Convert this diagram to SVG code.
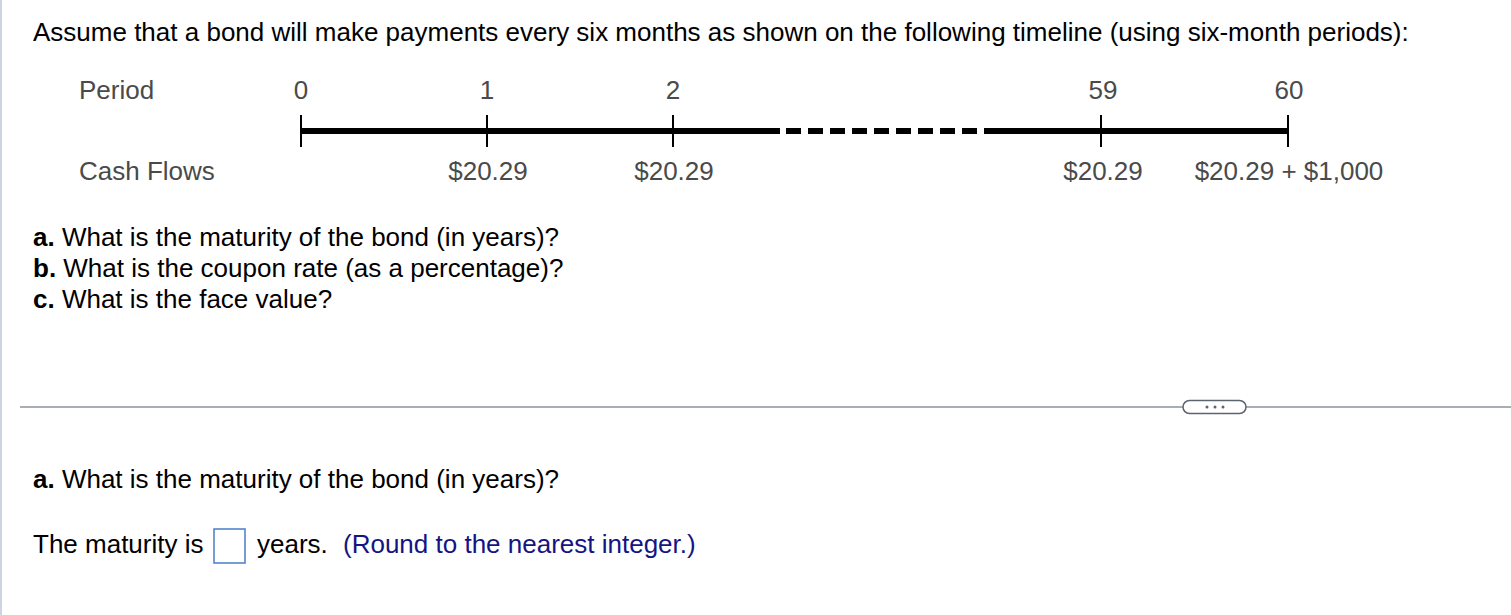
<svg xmlns="http://www.w3.org/2000/svg" width="1511" height="615" viewBox="0 0 1511 615">
<style>
text{font-family:"Liberation Sans",Arial,sans-serif;font-size:26px;fill:#000}
.g{fill:#4a4a4a}
.c{text-anchor:middle}
.b{font-weight:bold}
.n{fill:#141482}
.tick{stroke:#000;stroke-width:2}
</style>
<rect width="1511" height="615" fill="#fff"/>
<line x1="1" y1="0" x2="1" y2="615" stroke="#cdd4e2" stroke-width="2"/>
<g id="title"><text x="33" y="41">Assume that a bond will make payments every six months as shown on the following timeline (using six-month periods):</text></g>
<g id="timeline">
<text class="g" x="79" y="99">Period</text>
<text class="g" x="79" y="180">Cash Flows</text>
<g id="connectors">
<line x1="300" y1="131" x2="780" y2="131" stroke="#000" stroke-width="6"/>
<line x1="786" y1="131" x2="996" y2="131" stroke="#000" stroke-width="6" stroke-dasharray="15 7"/>
<line x1="996" y1="131" x2="1289" y2="131" stroke="#000" stroke-width="6"/>
</g>
<g id="p0"><line class="tick" x1="301" y1="115" x2="301" y2="147"/><text class="g c" x="301" y="99">0</text></g>
<g id="p1"><line class="tick" x1="487" y1="115" x2="487" y2="147"/><text class="g c" x="487" y="99">1</text><text class="g c" x="488" y="180">$20.29</text></g>
<g id="p2"><line class="tick" x1="673" y1="115" x2="673" y2="147"/><text class="g c" x="673" y="99">2</text><text class="g c" x="674" y="180">$20.29</text></g>
<g id="p59"><line class="tick" x1="1101" y1="115" x2="1101" y2="147"/><text class="g c" x="1103" y="99">59</text><text class="g c" x="1103" y="180">$20.29</text></g>
<g id="p60"><line class="tick" x1="1288" y1="115" x2="1288" y2="147"/><text class="g c" x="1289" y="99">60</text><text class="g c" x="1289" y="180">$20.29 + $1,000</text></g>
</g>
<g id="questions">
<text x="33" y="246"><tspan class="b">a.</tspan> What is the maturity of the bond (in years)?</text>
<text x="33" y="277"><tspan class="b">b.</tspan> What is the coupon rate (as a percentage)?</text>
<text x="33" y="308"><tspan class="b">c.</tspan> What is the face value?</text>
</g>
<g id="separator">
<line x1="20" y1="407" x2="1511" y2="407" stroke="#8c939c" stroke-width="1.5"/>
<rect x="1183" y="400.5" width="63" height="13" rx="6.5" fill="#fff" stroke="#5b6470" stroke-width="1.5"/>
<circle cx="1207" cy="407" r="1.5" fill="#5b6470"/><circle cx="1215" cy="407" r="1.5" fill="#5b6470"/><circle cx="1223" cy="407" r="1.5" fill="#5b6470"/>
</g>
<g id="answer">
<text x="33" y="488"><tspan class="b">a.</tspan> What is the maturity of the bond (in years)?</text>
<text x="33" y="553">The maturity is</text>
<rect x="214" y="529" width="31" height="34" fill="#fff" stroke="#4a7ccb" stroke-width="1.5"/>
<text x="257" y="553">years.</text>
<text class="n" x="343" y="553">(Round to the nearest integer.)</text>
</g>
</svg>
